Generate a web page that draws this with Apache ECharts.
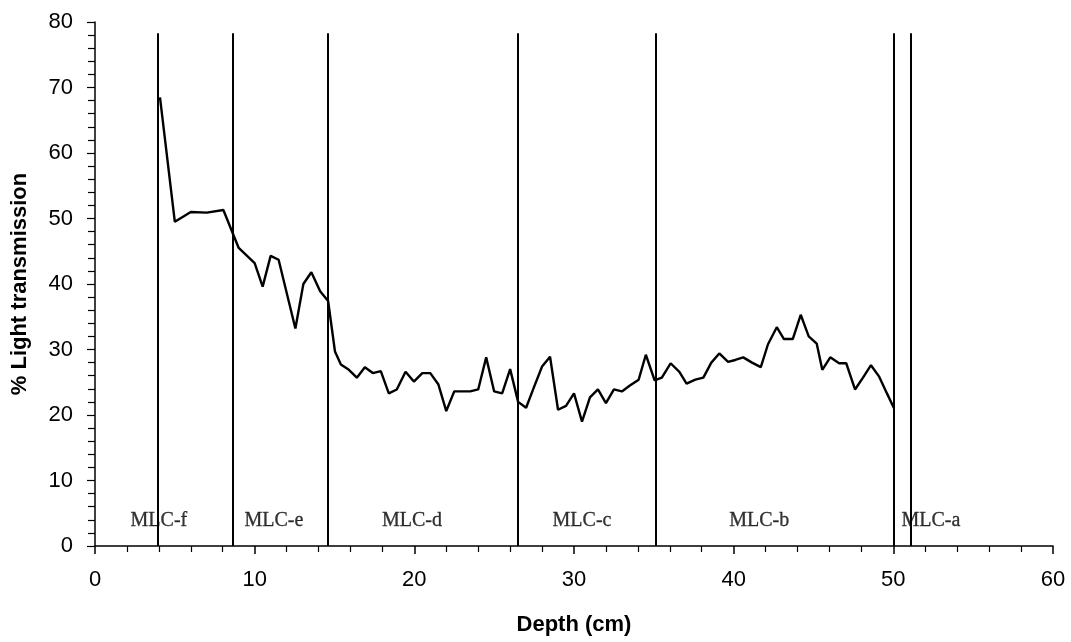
<!DOCTYPE html>
<html>
<head>
<meta charset="utf-8">
<script src="https://cdn.jsdelivr.net/npm/echarts@6/dist/echarts.min.js"></script>
<style>
  html, body { margin: 0; padding: 0; background: #fff; }
  #chart { width: 1071px; height: 642px; }
</style>
</head>
<body>
<div id="chart"></div>
<script>
// depth (cm) and % light transmission
var depth = [4.07, 5.0, 6.0, 7.0, 8.04, 9.0, 10.0, 10.5, 11.0, 11.5, 12.55, 13.05, 13.55, 14.1, 14.6,
  15.03, 15.4, 15.9, 16.4, 16.9, 17.4, 17.9, 18.4, 18.9, 19.45, 19.97, 20.5, 21.0, 21.5, 22.0,
  22.5, 23.0, 23.5, 24.0, 24.5, 25.0, 25.5, 26.0, 26.5, 27.0, 27.5, 28.0, 28.5, 29.0, 29.5,
  30.0, 30.5, 31.0, 31.5, 32.0, 32.5, 33.0, 33.5, 34.05, 34.5, 35.05, 35.5, 36.05, 36.6, 37.05,
  37.6, 38.1, 38.6, 39.1, 39.65, 40.1, 40.6, 41.15, 41.7, 42.15, 42.7, 43.15, 43.7, 44.2, 44.7,
  45.2, 45.55, 46.05, 46.6, 47.05, 47.6, 48.1, 48.6, 49.1, 49.6, 50.05];
var transmission = [68.5, 49.5, 51.0, 50.9, 51.3, 45.5, 43.2, 39.6, 44.3, 43.7, 33.2, 40.0, 41.8, 38.9, 37.4,
  29.7, 27.7, 26.9, 25.7, 27.3, 26.4, 26.7, 23.3, 23.9, 26.6, 25.1, 26.4, 26.4, 24.7, 20.6,
  23.6, 23.6, 23.6, 23.9, 28.8, 23.6, 23.3, 27.0, 22.0, 21.1, 24.3, 27.4, 28.9, 20.8, 21.4,
  23.3, 19.0, 22.7, 23.9, 21.8, 23.9, 23.6, 24.5, 25.4, 29.2, 25.3, 25.7, 27.9, 26.6, 24.8,
  25.4, 25.7, 28.0, 29.4, 28.1, 28.4, 28.8, 28.0, 27.3, 30.8, 33.4, 31.6, 31.6, 35.3, 32.0,
  30.9, 26.9, 28.8, 27.9, 27.9, 23.9, 25.7, 27.6, 25.9, 23.3, 21.0];

// unit boundaries and labels
var boundaries = [3.9, 8.6, 14.55, 26.45, 35.15, 50.05, 51.1];
var boundaryTop = 78.3;
var unitNames = ['MLC-f', 'MLC-e', 'MLC-d', 'MLC-c', 'MLC-b', 'MLC-a'];
var unitLabelX = [4.0, 11.2, 19.85, 30.5, 41.6, 52.35];
var unitLabelY = 3.8;

var xTicks = [0, 10, 20, 30, 40, 50, 60];
var yTicks = [0, 10, 20, 30, 40, 50, 60, 70, 80];

var myChart = echarts.init(document.getElementById('chart'));

var lineData = depth.map(function (d, i) { return [d, transmission[i]]; });
var boundaryLines = boundaries.map(function (b) {
  return [{ coord: [b, 0] }, { coord: [b, boundaryTop] }];
});
var labelData = unitNames.map(function (n, i) {
  return { name: n, value: [unitLabelX[i], unitLabelY] };
});

var axisFont = { fontFamily: 'Liberation Sans, Arial, sans-serif', fontSize: 22, color: '#000' };
var titleFont = { fontFamily: 'Liberation Sans, Arial, sans-serif', fontSize: 22, fontWeight: 'bold', color: '#000' };

var option = {
  animation: false,
  backgroundColor: '#fff',
  grid: { left: 95, right: 18, top: 22, bottom: 96 },
  xAxis: {
    type: 'value',
    min: xTicks[0],
    max: xTicks[xTicks.length - 1],
    interval: 10,
    name: 'Depth (cm)',
    nameLocation: 'middle',
    nameGap: 68,
    nameTextStyle: titleFont,
    axisLine: { show: true, onZero: false, lineStyle: { color: '#000', width: 1.5 } },
    axisTick: { show: true, length: 8, lineStyle: { color: '#000', width: 1.5 } },
    minorTick: { show: true, splitNumber: 5, length: 6, lineStyle: { color: '#000', width: 1.2 } },
    axisLabel: Object.assign({ margin: 23 }, axisFont),
    splitLine: { show: false }
  },
  yAxis: {
    type: 'value',
    min: yTicks[0],
    max: yTicks[yTicks.length - 1],
    interval: 10,
    name: '% Light transmission',
    nameLocation: 'middle',
    nameGap: 64,
    nameRotate: 90,
    nameTextStyle: titleFont,
    axisLine: { show: true, onZero: false, lineStyle: { color: '#000', width: 1.5 } },
    axisTick: { show: true, length: 8, lineStyle: { color: '#000', width: 1.2 } },
    minorTick: { show: true, splitNumber: 5, length: 7, lineStyle: { color: '#000', width: 1.2 } },
    axisLabel: Object.assign({ margin: 22 }, axisFont),
    splitLine: { show: false }
  },
  series: [
    {
      type: 'line',
      data: lineData,
      showSymbol: false,
      symbol: 'none',
      lineStyle: { color: '#000', width: 2.4 },
      markLine: {
        silent: true,
        symbol: ['none', 'none'],
        label: { show: false },
        lineStyle: { color: '#000', width: 2, type: 'solid' },
        data: boundaryLines
      },
      z: 3
    },
    {
      type: 'scatter',
      data: labelData,
      symbolSize: 0,
      silent: true,
      label: {
        show: true,
        position: 'inside',
        formatter: '{b}',
        fontFamily: 'Liberation Serif, Times New Roman, serif',
        fontSize: 20,
        color: '#000',
        textBorderColor: '#000',
        textBorderWidth: 0.3
      },
      z: 4
    }
  ]
};

myChart.setOption(option);
</script>
</body>
</html>
